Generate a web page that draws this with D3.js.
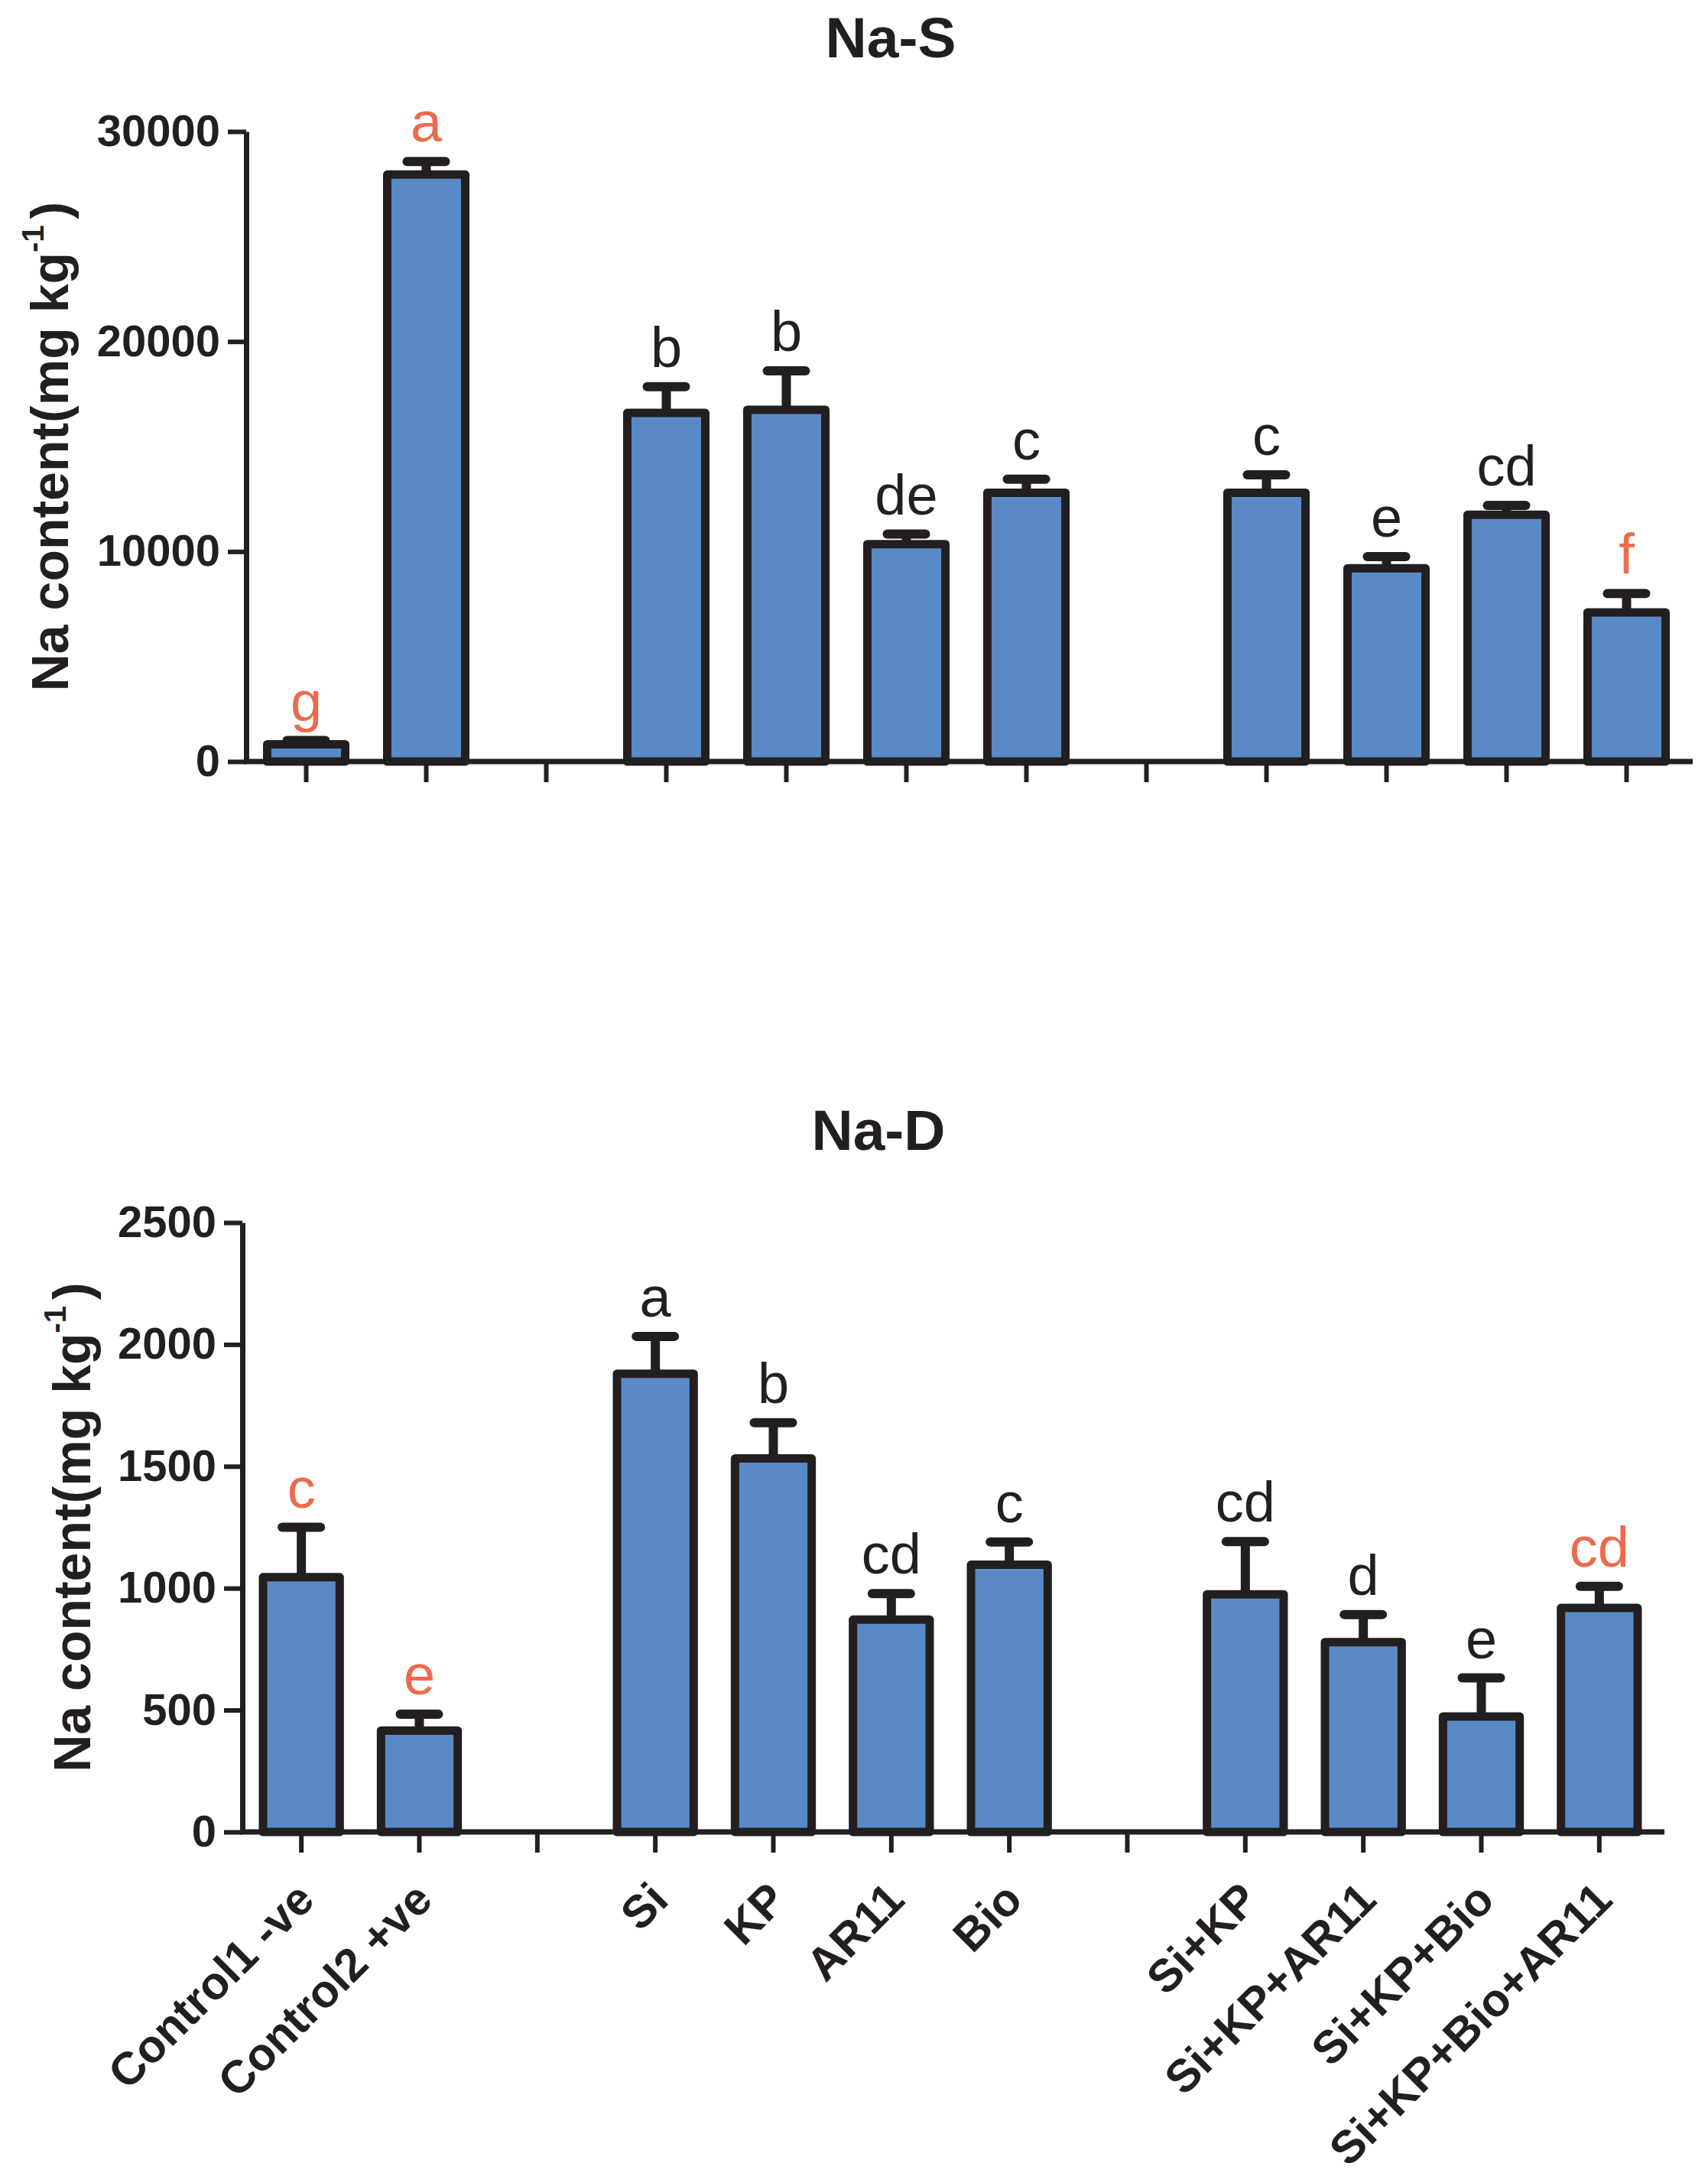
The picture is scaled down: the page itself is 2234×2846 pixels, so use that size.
<!DOCTYPE html>
<html>
<head>
<meta charset="utf-8">
<script src="https://cdn.jsdelivr.net/npm/d3@7"></script>
<style>
  body { margin: 0; background: #fff; }
  text { font-family: "Liberation Sans", Arial, sans-serif; }
</style>
</head>
<body>
<div id="chart"></div>
<script>
const categories = ["Control1 -ve", "Control2 +ve", "Si", "KP", "AR11", "Bio",
    "Si+KP", "Si+KP+AR11", "Si+KP+Bio", "Si+KP+Bio+AR11"];
// slot order on the x axis, the gap slots separate the groups
const slots = ["Control1 -ve", "Control2 +ve", "gap1", "Si", "KP", "AR11", "Bio",
    "gap2", "Si+KP", "Si+KP+AR11", "Si+KP+Bio", "Si+KP+Bio+AR11"];

const naS = [820, 27950, 16600, 16750, 10350, 12800, 12800, 9200, 11750, 7100];
const naSErr = [180, 620, 1250, 1850, 480, 640, 850, 560, 450, 900];
const naSLetters = ["g", "a", "b", "b", "de", "c", "c", "e", "cd", "f"];
const naSTicks = [0, 10000, 20000, 30000];

const naD = [1045, 416, 1880, 1532, 871, 1096, 975, 779, 474, 919];
const naDErr = [205, 67, 153, 147, 107, 94, 216, 113, 158, 89];
const naDLetters = ["c", "e", "a", "b", "cd", "c", "cd", "d", "e", "cd"];
const naDTicks = [0, 500, 1000, 1500, 2000, 2500];

// letters drawn in orange-red
const redIdx = [0, 1, 9];

const width = 2234;
const height = 2846;
const ink = "#231f20";
const barFill = "#5a8ac6";
const red = "#ee6a4c";

const svg = d3.select("#chart")
    .append("svg")
    .attr("width", width)
    .attr("height", height);

svg.append("rect").attr("width", width).attr("height", height).attr("fill", "#fff");

function panel(opt) {
    const g = svg.append("g");

    const x = d3.scaleBand()
        .domain(slots)
        .range([opt.left, opt.right]);

    const y = d3.scaleLinear()
        .domain([0, opt.max])
        .range([opt.bottom, opt.top]);

    const data = categories.map((c, i) => ({
        cat: c, v: opt.values[i], e: opt.errs[i], l: opt.letters[i], red: redIdx.includes(i)
    }));

    const barW = x.bandwidth() * 0.65;
    const cx = d => x(d.cat) + x.bandwidth() / 2;

    // bars
    g.selectAll(".bar")
        .data(data)
        .enter()
        .append("rect")
        .attr("class", "bar")
        .attr("x", d => cx(d) - barW / 2)
        .attr("y", d => y(d.v))
        .attr("width", barW)
        .attr("height", d => y(0) - y(d.v))
        .attr("fill", barFill)
        .attr("stroke", ink)
        .attr("stroke-width", 11)
        .attr("stroke-linejoin", "round");

    // error bars, upper half only
    g.selectAll(".err")
        .data(data)
        .enter()
        .append("line")
        .attr("x1", cx).attr("x2", cx)
        .attr("y1", d => y(d.v))
        .attr("y2", d => y(d.v + d.e))
        .attr("stroke", ink)
        .attr("stroke-width", 12);
    g.selectAll(".cap")
        .data(data)
        .enter()
        .append("line")
        .attr("x1", d => cx(d) - 25).attr("x2", d => cx(d) + 25)
        .attr("y1", d => y(d.v + d.e))
        .attr("y2", d => y(d.v + d.e))
        .attr("stroke", ink)
        .attr("stroke-width", 12)
        .attr("stroke-linecap", "round");

    // significance letters
    g.selectAll(".letter")
        .data(data)
        .enter()
        .append("text")
        .attr("x", cx)
        .attr("y", d => y(d.v + d.e) - 26)
        .attr("text-anchor", "middle")
        .attr("font-size", 74)
        .attr("fill", d => d.red ? red : ink)
        .text(d => d.l);

    // y axis
    const yAxis = g.append("g")
        .attr("transform", "translate(" + opt.left + ",0)")
        .call(d3.axisLeft(y).tickValues(opt.ticks).tickFormat(d3.format("d"))
            .tickSize(24).tickSizeOuter(0).tickPadding(10));
    yAxis.select(".domain").attr("stroke", ink).attr("stroke-width", 7);
    yAxis.selectAll(".tick line").attr("stroke", ink).attr("stroke-width", 6);
    yAxis.selectAll(".tick text")
        .attr("font-size", 58)
        .attr("font-weight", "bold")
        .attr("fill", ink)
        .attr("font-family", "'Liberation Sans', Arial, sans-serif");

    // x axis
    const xAxis = g.append("g")
        .attr("transform", "translate(0," + opt.bottom + ")")
        .call(d3.axisBottom(x).tickSize(27).tickSizeOuter(0)
            .tickFormat(d => opt.labels && categories.includes(d) ? d : ""));
    xAxis.select(".domain").remove();
    xAxis.append("line")
        .attr("x1", opt.left - 3).attr("x2", opt.axisEnd)
        .attr("stroke", ink).attr("stroke-width", 7);
    xAxis.selectAll(".tick line").attr("stroke", ink).attr("stroke-width", 6);
    xAxis.selectAll(".tick text")
        .attr("font-size", 60)
        .attr("font-weight", "bold")
        .attr("fill", ink)
        .attr("font-family", "'Liberation Sans', Arial, sans-serif")
        .attr("text-anchor", "end")
        .attr("dy", null)
        .attr("y", null)
        .attr("transform", "translate(20,92) rotate(-45)");

    // panel title
    g.append("text")
        .attr("x", opt.titleX)
        .attr("y", opt.titleY)
        .attr("text-anchor", "middle")
        .attr("font-size", 75)
        .attr("font-weight", "bold")
        .attr("fill", ink)
        .text(opt.title);

    // y axis title with superscript
    const yl = g.append("text")
        .attr("transform", "translate(" + opt.labelX + "," + (opt.top + opt.bottom) / 2 + ") rotate(-90)")
        .attr("text-anchor", "middle")
        .attr("font-size", 68)
        .attr("font-weight", "bold")
        .attr("fill", ink);
    yl.append("tspan").text("Na content(mg kg");
    yl.append("tspan").attr("font-size", 40).attr("dy", -32).text("-1");
    yl.append("tspan").attr("dy", 32).attr("dx", 8).text(")");
}

panel({
    values: naS, errs: naSErr, letters: naSLetters, ticks: naSTicks, max: 30000,
    left: 322, right: 2206, axisEnd: 2214, top: 172, bottom: 996,
    title: "Na-S", titleX: 1165, titleY: 75, labelX: 89, labels: false
});

panel({
    values: naD, errs: naDErr, letters: naDLetters, ticks: naDTicks, max: 2500,
    left: 317, right: 2169, axisEnd: 2177, top: 1599, bottom: 2396,
    title: "Na-D", titleX: 1149, titleY: 1504, labelX: 118, labels: true
});
</script>
</body>
</html>
